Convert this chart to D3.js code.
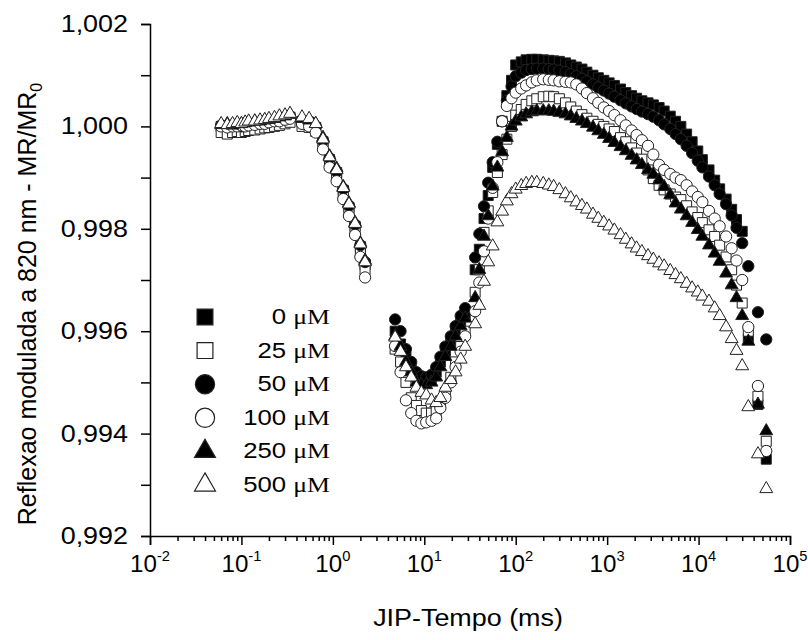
<!DOCTYPE html>
<html>
<head>
<meta charset="utf-8">
<script src="https://cdn.jsdelivr.net/npm/d3@7"></script>
<style>
  body { margin: 0; background: #fff; }
  text { font-family: Arial, "Liberation Sans", sans-serif; fill: #000; }
</style>
</head>
<body>
<svg width="808" height="640"></svg>
<script>
// JIP time (ms), shared by all series
var time = [0.06, 0.07, 0.08, 0.09, 0.1, 0.11, 0.12, 0.14, 0.16, 0.18, 0.2, 0.23, 0.26, 0.3, 0.34,
    0.46, 0.55, 0.65, 0.78, 0.92, 1.1, 1.3, 1.5, 1.75, 2.0, 2.25,
    4.8, 5.5, 6.3, 7.2, 8.2, 9.3, 10.5, 12, 13.5, 15, 17, 19.5, 22, 25, 28,
    36, 40, 45, 50, 56, 63, 71, 80, 90,
    100, 115, 130, 150, 170, 200, 230, 260, 300, 350, 400, 460, 530, 600, 700, 800, 920, 1050, 1200, 1400,
    1600, 1850, 2100, 2400, 2800, 3200, 3700, 4200, 4900, 5600, 6400, 7400, 8500, 9800, 11000, 13000, 15000, 17000, 20000, 23000,
    26000, 30000,
    35000, 44600, 55000];

var mr0 = [1.0, 1.0, 0.99998, 1.0, 1.00002, 1.0, 1.00003, 1.00005, 1.00005, 1.00008, 1.0001, 1.0001, 1.00012, 1.00015, 1.00018,
    1.0001, 1.00008, 0.99998, 0.9997, 0.99935, 0.9991, 0.99875, 0.99842, 0.99805, 0.99765, 0.9973,
    0.996, 0.99575, 0.9955, 0.99525, 0.99512, 0.99505, 0.99505, 0.9951, 0.9952, 0.9954, 0.9956, 0.9958, 0.996, 0.99615, 0.9963,
    0.9972, 0.9976, 0.9982, 0.99865, 0.9992, 0.99965, 1.0001, 1.0006, 1.0009,
    1.0012, 1.00126, 1.0013, 1.00131, 1.00131, 1.0013, 1.00129, 1.00128, 1.00127, 1.00124, 1.0012, 1.00116, 1.00112, 1.00106, 1.001, 1.00095, 1.0009, 1.00085, 1.0008, 1.00073,
    1.00066, 1.0006, 1.00055, 1.0005, 1.00046, 1.00042, 1.00037, 1.0003, 1.0002, 1.0001, 1.0, 0.99985, 0.9997, 0.99952, 0.99935, 0.99915, 0.99895, 0.99878, 0.99858, 0.99838,
    0.99818, 0.99795,
    0.99584, 0.99457, 0.9935];

var mr25 = [0.99988, 0.99985, 0.99988, 0.9999, 0.99988, 0.9999, 0.99992, 0.99993, 0.99995, 0.99997, 0.99998, 1.0, 1.00002, 1.00005, 1.00008,
    1.0, 0.99998, 0.9999, 0.9996, 0.99925, 0.999, 0.99865, 0.99832, 0.99795, 0.99755, 0.9972,
    0.99565, 0.9954, 0.995, 0.9947, 0.99455, 0.99445, 0.9944, 0.9944, 0.99445, 0.9946, 0.9948, 0.9951, 0.9954, 0.9957, 0.996,
    0.99676, 0.9972, 0.99793, 0.99835, 0.99871, 0.9991, 0.99945, 0.99975, 1.0,
    1.00022, 1.00033, 1.00043, 1.0005, 1.00054, 1.00058, 1.00059, 1.00058, 1.00054, 1.00046, 1.00038, 1.0003, 1.00023, 1.00016, 1.0001, 1.00004, 1.0, 0.99995, 0.9999, 0.99978,
    0.9997, 0.99958, 0.99948, 0.99936, 0.99915, 0.99898, 0.99885, 0.99876, 0.99868, 0.99862, 0.99857, 0.99845, 0.99833, 0.99822, 0.99812, 0.99798, 0.99785, 0.99768, 0.99745, 0.9972,
    0.9969, 0.99655,
    0.996, 0.99473, 0.99385];

var mr50 = [1.00002, 1.0, 1.00002, 1.00003, 1.0, 1.00003, 1.00005, 1.00005, 1.00008, 1.0001, 1.0001, 1.00012, 1.00015, 1.00017, 1.0002,
    1.00012, 1.0001, 1.0, 0.99972, 0.99938, 0.99912, 0.99878, 0.99845, 0.99808, 0.99768, 0.99735,
    0.99623, 0.996, 0.99565, 0.9954, 0.9952, 0.99512, 0.9951, 0.99515, 0.9953, 0.9955, 0.9957, 0.9959, 0.9961, 0.9963, 0.99645,
    0.99744, 0.9979, 0.99844, 0.9989, 0.9993, 0.9997, 1.0001, 1.0005, 1.00078,
    1.00098, 1.00105, 1.0011, 1.00112, 1.00113, 1.00113, 1.00112, 1.00111, 1.00109, 1.00106, 1.00102, 1.00098, 1.00093, 1.00088, 1.00082, 1.00076, 1.0007, 1.00064, 1.00058, 1.00051,
    1.00045, 1.00039, 1.00034, 1.00029, 1.00024, 1.00019, 1.00012, 1.00004, 0.99995, 0.99985, 0.99975, 0.99962, 0.99948, 0.99933, 0.9992, 0.99902, 0.99885, 0.99868, 0.99848, 0.99826,
    0.99802, 0.99772,
    0.99727, 0.99637, 0.99584];

var mr100 = [1.0, 0.99998, 1.0, 1.0, 1.00002, 1.0, 1.00002, 1.00003, 1.00005, 1.00005, 1.00008, 1.0001, 1.0001, 1.00013, 1.00015,
    1.00005, 1.0, 0.99988, 0.99955, 0.9992, 0.99893, 0.99858, 0.99825, 0.99788, 0.99745, 0.99705,
    0.99571, 0.9952, 0.99465, 0.9944, 0.99425, 0.9942, 0.99422, 0.99425, 0.9943, 0.9945, 0.9947, 0.995, 0.9953, 0.9956, 0.9959,
    0.99639, 0.99695, 0.99756, 0.9982, 0.9988, 0.9993, 1.0001, 1.0004, 1.00055,
    1.00066, 1.00074, 1.0008, 1.00086, 1.0009, 1.00092, 1.00091, 1.0009, 1.00088, 1.00087, 1.00086, 1.00082, 1.00074, 1.00065, 1.00055, 1.00046, 1.00037, 1.0003, 1.00022, 1.00012,
    1.00002, 0.99992, 0.99983, 0.99973, 0.99962, 0.99945, 0.99925, 0.99915, 0.99907, 0.999, 0.99895, 0.99885, 0.99873, 0.99862, 0.99852, 0.99835, 0.9982, 0.99805, 0.99785, 0.99762,
    0.99738, 0.997,
    0.99608, 0.99493, 0.99366];

var mr250 = [1.00003, 1.00005, 1.00002, 1.00005, 1.00005, 1.00007, 1.00008, 1.0001, 1.0001, 1.00012, 1.00013, 1.00015, 1.00018, 1.0002, 1.00023,
    1.00015, 1.00012, 1.00005, 0.99978, 0.99942, 0.99918, 0.99882, 0.9985, 0.99812, 0.99772, 0.99738,
    0.9959, 0.9957, 0.9954, 0.9952, 0.995, 0.99495, 0.99495, 0.995, 0.9951, 0.9953, 0.9955, 0.9957, 0.9959, 0.9961, 0.99625,
    0.99665, 0.9972, 0.99785, 0.99825, 0.99883, 0.9992, 0.9995, 0.99978, 1.0,
    1.0001, 1.00018, 1.00024, 1.00028, 1.0003, 1.0003, 1.0003, 1.00029, 1.00027, 1.00024, 1.0002, 1.00015, 1.0001, 1.00005, 0.99998, 0.99991, 0.99984, 0.99976, 0.99968, 0.9996,
    0.99952, 0.99943, 0.99934, 0.99925, 0.99915, 0.99906, 0.99895, 0.99882, 0.99866, 0.9985, 0.99838, 0.99825, 0.99812, 0.99798, 0.99785, 0.99768, 0.99752, 0.99736, 0.99713, 0.9969,
    0.99665, 0.9963,
    0.9958, 0.99457, 0.99405];

var mr500 = [1.00005, 1.00003, 1.00005, 1.00007, 1.00005, 1.00008, 1.0001, 1.0001, 1.00012, 1.00013, 1.00015, 1.00017, 1.0002, 1.00022, 1.00025,
    1.00018, 1.00015, 1.00005, 0.99975, 0.9994, 0.99915, 0.9988, 0.99848, 0.9981, 0.9977, 0.99735,
    0.99588, 0.9956, 0.9953, 0.9951, 0.9949, 0.9948, 0.99475, 0.99465, 0.9946, 0.9947, 0.9949, 0.99505, 0.9952, 0.99545, 0.9957,
    0.99614, 0.9965, 0.99697, 0.99735, 0.99766, 0.99813, 0.99834, 0.99854, 0.99868,
    0.99877, 0.99884, 0.99888, 0.9989, 0.9989, 0.99888, 0.99885, 0.99882, 0.99876, 0.99868, 0.9986, 0.99852, 0.99845, 0.99838, 0.99828, 0.9982, 0.99812, 0.99805, 0.99797, 0.99788,
    0.99779, 0.9977, 0.99762, 0.99755, 0.99747, 0.9974, 0.99733, 0.99727, 0.99718, 0.9971, 0.99702, 0.99693, 0.99684, 0.99676, 0.99668, 0.99658, 0.99645, 0.9963, 0.99608, 0.99585,
    0.99562, 0.99532,
    0.99452, 0.9936, 0.99292];

var concentrations = ["0", "25", "50", "100", "250", "500"];
var xMajor = [1e-2, 1e-1, 1e0, 1e1, 1e2, 1e3, 1e4, 1e5];
var xExponents = ["-2", "-1", "0", "1", "2", "3", "4", "5"];
var yMajor = [0.992, 0.994, 0.996, 0.998, 1.000, 1.002];
var yMinor = [0.993, 0.995, 0.997, 0.999, 1.001];

var svg = d3.select("svg");
var stretch = 1.17;   // text in the picture is a little wider than tall

var x = d3.scaleLog().domain([1e-2, 1e5]).range([150, 790]);
var y = d3.scaleLinear().domain([0.992, 1.002]).range([536, 24]);

// minor x ticks: 2..9 inside each decade
var xMinor = [];
xMajor.slice(0, -1).forEach(function(d) {
    for (var k = 2; k <= 9; k++) xMinor.push(d * k);
});

var series = [
    { values: mr0, type: d3.symbolSquare, size: 100, filled: true },
    { values: mr25, type: d3.symbolSquare, size: 100, filled: false },
    { values: mr50, type: d3.symbolCircle, size: 100, filled: true },
    { values: mr100, type: d3.symbolCircle, size: 100, filled: false },
    { values: mr250, type: d3.symbolTriangle, size: 72, filled: true },
    { values: mr500, type: d3.symbolTriangle, size: 72, filled: false }
];

var plot = svg.append("g");
series.forEach(function(s) {
    plot.append("g").selectAll("path")
        .data(time.map(function(t, i) { return [t, s.values[i]]; }))
        .enter().append("path")
        .attr("transform", function(d) { return "translate(" + x(d[0]) + "," + y(d[1]) + ")"; })
        .attr("d", d3.symbol().type(s.type).size(s.size))
        .attr("fill", s.filled ? "#000" : "#fff")
        .attr("stroke", "#222")
        .attr("stroke-width", 1);
});

// x axis
var gx = svg.append("g").attr("transform", "translate(0," + y(0.992) + ")");
gx.call(d3.axisBottom(x).tickValues(xMajor).tickSize(9).tickFormat(""));
gx.append("g").call(d3.axisBottom(x).tickValues(xMinor).tickSize(5).tickFormat(""))
    .select(".domain").remove();
gx.selectAll("path, line").attr("stroke", "#000").attr("stroke-width", 1.5);

var xl = svg.append("g").selectAll("text")
    .data(xMajor)
    .enter().append("text")
    .attr("transform", function(d) { return "translate(" + x(d) + ",572) scale(1.05,1)"; })
    .attr("text-anchor", "middle")
    .attr("font-size", 23);
xl.append("tspan").text("10");
xl.append("tspan").attr("dy", -11).attr("font-size", 14)
    .text(function(d, i) { return xExponents[i]; });

// y axis
var gy = svg.append("g").attr("transform", "translate(" + x(1e-2) + ",0)");
gy.call(d3.axisLeft(y).tickValues(yMajor).tickSize(9).tickFormat(""));
gy.append("g").call(d3.axisLeft(y).tickValues(yMinor).tickSize(9).tickFormat(""))
    .select(".domain").remove();
gy.selectAll("path, line").attr("stroke", "#000").attr("stroke-width", 1.5);

svg.append("g").selectAll("text")
    .data(yMajor)
    .enter().append("text")
    .attr("transform", function(d) { return "translate(128," + (y(d) + 8) + ") scale(" + stretch + ",1)"; })
    .attr("text-anchor", "end")
    .attr("font-size", 23)
    .text(function(d) { return d3.format(".3f")(d).replace(".", ","); });

// axis titles
svg.append("text")
    .attr("transform", "translate(468,626) scale(" + stretch + ",1)")
    .attr("text-anchor", "middle")
    .attr("font-size", 23)
    .text("JIP-Tempo (ms)");

var yt = svg.append("text")
    .attr("transform", "translate(36,304) rotate(-90)")
    .attr("text-anchor", "middle")
    .attr("font-size", 25);
yt.append("tspan").text("Reflexao modulada a 820 nm - MR/MR");
yt.append("tspan").attr("dy", 6).attr("font-size", 16).text("0");

// legend
var legendSize = { square: 250, circle: 290, triangle: 190 };
var legend = svg.append("g");
series.forEach(function(s, i) {
    var ly = 317 + i * 33.6;
    var sz = s.type === d3.symbolSquare ? legendSize.square : s.type === d3.symbolCircle ? legendSize.circle : legendSize.triangle;
    legend.append("path")
        .attr("transform", "translate(205," + ly + ")")
        .attr("d", d3.symbol().type(s.type).size(sz))
        .attr("fill", s.filled ? "#000" : "#fff")
        .attr("stroke", "#222")
        .attr("stroke-width", 1.2);
    var lt = legend.append("text")
        .attr("transform", "translate(330," + (ly + 7) + ") scale(" + stretch + ",1)")
        .attr("text-anchor", "end")
        .attr("font-size", 22);
    lt.append("tspan").text(concentrations[i] + " ");
    lt.append("tspan").attr("font-family", "'Liberation Serif', 'Times New Roman', serif").text("\u03bcM");
});
</script>
</body>
</html>
